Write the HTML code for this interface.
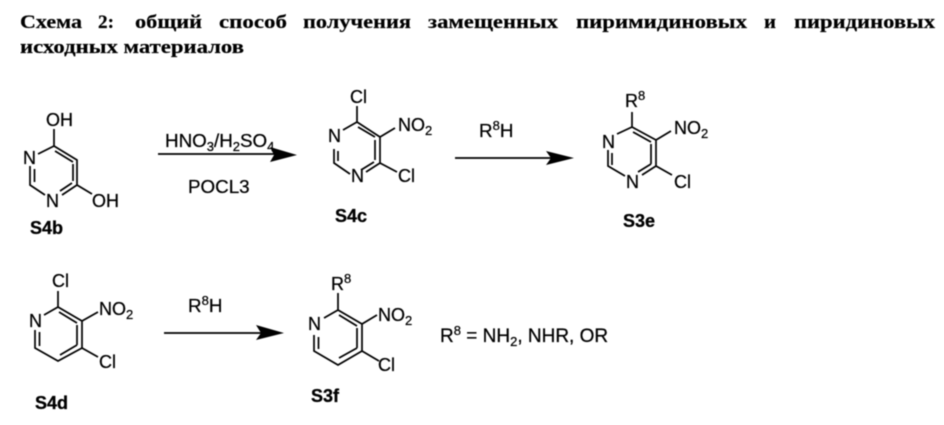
<!DOCTYPE html>
<html><head><meta charset="utf-8"><style>
html,body{margin:0;padding:0;background:#fff;width:944px;height:425px;overflow:hidden}
svg{display:block}
.t{font:bold 19px "Liberation Serif",serif;fill:#000;stroke:#000;stroke-width:.2}
.a{font:18px "Liberation Sans",sans-serif;fill:#000;stroke:#000;stroke-width:.25}
.w{font-size:18.8px}
.b{font:bold 18px "Liberation Sans",sans-serif;fill:#000;stroke:#000;stroke-width:.3}
.s{font-size:13px}
.l{stroke:#000;stroke-width:1.7;fill:none}
</style></head><body>
<svg width="944" height="425" viewBox="0 0 944 425" xmlns="http://www.w3.org/2000/svg">
<defs><filter id="f" x="0" y="0" width="100%" height="100%"><feGaussianBlur stdDeviation="0.4"/></filter></defs>
<g filter="url(#f)">
<g class="t">
<text x="20" y="28" textLength="62" lengthAdjust="spacingAndGlyphs">Схема</text>
<text x="98" y="28" textLength="16" lengthAdjust="spacingAndGlyphs">2:</text>
<text x="135" y="28" textLength="67" lengthAdjust="spacingAndGlyphs">общий</text>
<text x="219" y="28" textLength="68" lengthAdjust="spacingAndGlyphs">способ</text>
<text x="303" y="28" textLength="108" lengthAdjust="spacingAndGlyphs">получения</text>
<text x="428" y="28" textLength="130" lengthAdjust="spacingAndGlyphs">замещенных</text>
<text x="576" y="28" textLength="171" lengthAdjust="spacingAndGlyphs">пиримидиновых</text>
<text x="764" y="28" textLength="12" lengthAdjust="spacingAndGlyphs">и</text>
<text x="794" y="28" textLength="141" lengthAdjust="spacingAndGlyphs">пиридиновых</text>
<text x="20" y="53" textLength="224" lengthAdjust="spacingAndGlyphs">исходных материалов</text>
</g>

<!-- S4b -->
<path class="l" d="M54 146V129M54 146L38 154M54 146L77 160V185L62 195M55 151L73 162M73 164V181M72 183L60 191M77 185L92 194M30 166V185L45 195M34.500 169V182"/>
<text class="a" x="46" y="126">OH</text>
<text class="a" x="23" y="164">N</text>
<text class="a" x="46" y="207">N</text>
<text class="a" x="92" y="207">OH</text>
<text class="b" x="30" y="234">S4b</text>

<!-- Arrow 1 -->
<path class="l" d="M158 154H275"/>
<path d="M270 147L297 155L270 162L274 155Z" fill="#000"/>
<text class="a w" x="165" y="147">HNO<tspan class="s" dy="4">3</tspan><tspan dy="-4">/H</tspan><tspan class="s" dy="4">2</tspan><tspan dy="-4">SO</tspan><tspan class="s" dy="4">4</tspan></text>
<text class="a w" x="188" y="193">POCL3</text>

<!-- S4c -->
<path class="l" d="M357 122V106M357 122L343 130M357 122L380 137V163L366 172M358 127L375 137M375 140V160M374 162L361 170M380 163L397 172M380 137L395 128M334 149V163L350 174M338 151V161"/>
<text class="a" x="350" y="103">Cl</text>
<text class="a" x="398" y="131">NO<tspan class="s" dy="4">2</tspan></text>
<text class="a" x="328" y="142">N</text>
<text class="a" x="351" y="182">N</text>
<text class="a" x="398" y="182">Cl</text>
<text class="b" x="335" y="222">S4c</text>

<!-- Arrow 2 -->
<path class="l" d="M455 158H555"/>
<path d="M546 151L574 158L546 165L551 158Z" fill="#000"/>
<text class="a w" x="479" y="137">R<tspan class="s" dy="-7">8</tspan><tspan dy="7">H</tspan></text>

<!-- S3e -->
<path class="l" d="M632 127V112M632 127L617 134M632 127L656 140V166L642 175M633 132L651 142M651 144V164M651 164L638 172M656 166L672 175M656 140L671 131M608 150V166L625 176M612 153V165"/>
<text class="a" x="625" y="107">R<tspan class="s" dy="-7">8</tspan></text>
<text class="a" x="674" y="134">NO<tspan class="s" dy="4">2</tspan></text>
<text class="a" x="602" y="148">N</text>
<text class="a" x="626" y="188">N</text>
<text class="a" x="674" y="188">Cl</text>
<text class="b" x="623" y="227">S3e</text>

<!-- S4d -->
<path class="l" d="M58 307V291M58 307L44 315M58 307L82 321V348L58 361L35 348V330M59 312L77 323M77 325V345M77 345L60 355M39.500 332V346M82 321L98 312M82 348L98 357"/>
<text class="a" x="52" y="287">Cl</text>
<text class="a" x="99" y="315">NO<tspan class="s" dy="4">2</tspan></text>
<text class="a" x="29" y="327">N</text>
<text class="a" x="99" y="368">Cl</text>
<text class="b" x="35" y="409">S4d</text>

<!-- Arrow 3 -->
<path class="l" d="M164 333H265"/>
<path d="M256 325L284 333L256 340L261 333Z" fill="#000"/>
<text class="a w" x="188" y="312">R<tspan class="s" dy="-7">8</tspan><tspan dy="7">H</tspan></text>

<!-- S3f -->
<path class="l" d="M338 310V293M338 310L324 318M338 310L362 324V351L338 365L314 351V335M339 315L357 326M357 328V348M357 348L339 358M318.500 337V349M362 324L377 315M362 351L379 361"/>
<text class="a" x="331" y="290">R<tspan class="s" dy="-7">8</tspan></text>
<text class="a" x="378" y="321">NO<tspan class="s" dy="4">2</tspan></text>
<text class="a" x="308" y="330">N</text>
<text class="a" x="378" y="371">Cl</text>
<text class="b" x="311" y="402">S3f</text>

<text class="a" x="440" y="342" style="font-size:19px">R<tspan class="s" dy="-7">8</tspan><tspan dy="7"> = NH</tspan><tspan class="s" dy="4">2</tspan><tspan dy="-4">, NHR, OR</tspan></text>
</g>
</svg>
</body></html>
